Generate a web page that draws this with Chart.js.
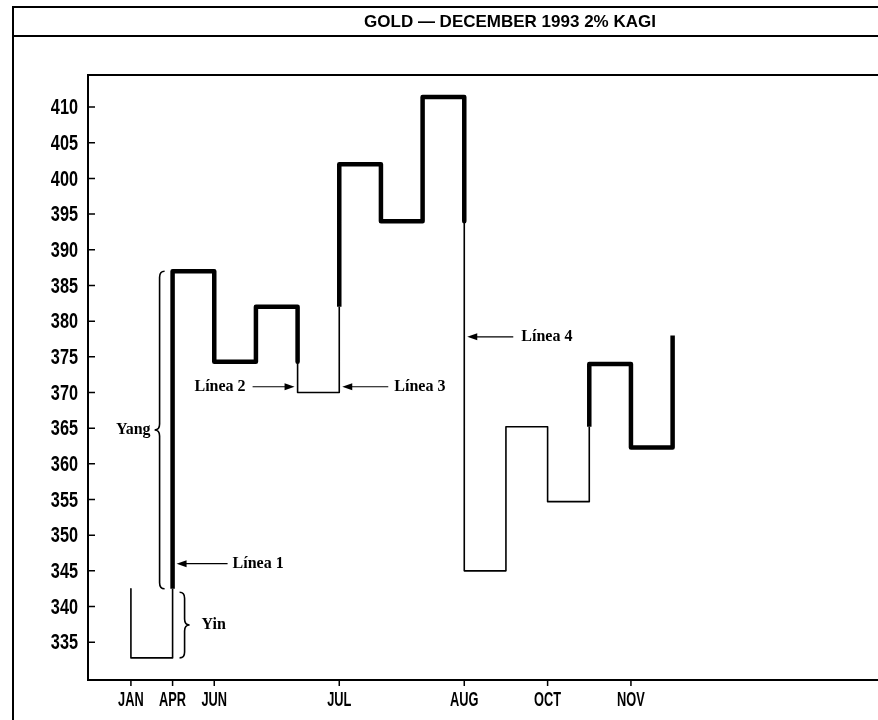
<!DOCTYPE html>
<html>
<head>
<meta charset="utf-8">
<title>Gold - December 1993 2% Kagi</title>
<script src="https://cdn.jsdelivr.net/npm/chart.js@4/dist/chart.umd.min.js"></script>
<style>
  html, body { margin: 0; padding: 0; background: #fff; overflow: hidden; }
  #wrap { width: 1020px; height: 720px; }
</style>
</head>
<body>
<div id="wrap"><canvas id="kagi" width="1020" height="720"></canvas></div>
<script>
// precios de cada giro del grafico Kagi (en orden)
var reversalPrices = [342.5, 332.8, 387, 374.3, 382, 370, 402, 394, 411.4, 345, 365.2, 354.7, 374, 362.3, 378];

// etiquetas del eje x (columna del giro donde aparece cada mes)
var xTickPositions = [0, 1, 2, 5, 8, 10, 12];
var xTickLabels = ['JAN', 'APR', 'JUN', 'JUL', 'AUG', 'OCT', 'NOV'];

var yTickValues = [335, 340, 345, 350, 355, 360, 365, 370, 375, 380, 385, 390, 395, 400, 405, 410];

var chartTitle = 'GOLD \u2014 DECEMBER 1993 2% KAGI';

// Construir la linea Kagi: vertical en la columna k-1, horizontal hasta la columna k.
// Se vuelve gruesa (yang) al superar el hombro anterior y fina (yin) al romper la cintura anterior.
function buildKagi(prices) {
  var pts = [{x: 0, y: prices[0], thick: false}];
  var thick = false;
  for (var k = 1; k < prices.length; k++) {
    var col = k - 1;
    if (k >= 2) {
      var ref = prices[k - 2];
      var up = prices[k] > prices[k - 1];
      if (up && !thick && prices[k] > ref) {
        pts.push({x: col, y: ref, thick: thick});
        thick = true;
      } else if (!up && thick && prices[k] < ref) {
        pts.push({x: col, y: ref, thick: thick});
        thick = false;
      }
    }
    pts.push({x: col, y: prices[k], thick: thick});
    if (k < prices.length - 1) {
      pts.push({x: k, y: prices[k], thick: thick});
    }
  }
  return pts;
}

var kagiPoints = buildKagi(reversalPrices);

var sansFont = "'Liberation Sans', Arial, sans-serif";
var serifFont = "'Liberation Serif', 'DejaVu Serif', 'Times New Roman', serif";

function arrow(ctx, x1, y, x2) {
  // linea de x1 a x2 con punta en x2
  var dir = x2 > x1 ? 1 : -1;
  ctx.beginPath();
  ctx.moveTo(x1, y);
  ctx.lineTo(x2 - dir * 6, y);
  ctx.lineWidth = 1.2;
  ctx.stroke();
  ctx.beginPath();
  ctx.moveTo(x2, y);
  ctx.lineTo(x2 - dir * 10, y - 3.5);
  ctx.lineTo(x2 - dir * 10, y + 3.5);
  ctx.closePath();
  ctx.fill();
}

function brace(ctx, x, top, bottom, dir) {
  // dir = -1 -> '{' con punta a la izquierda, 1 -> '}' con punta a la derecha
  var mid = (top + bottom) / 2;
  var h = 5 * dir;
  ctx.beginPath();
  ctx.moveTo(x - h, top);
  ctx.quadraticCurveTo(x, top, x, top + 6);
  ctx.lineTo(x, mid - 6);
  ctx.quadraticCurveTo(x, mid, x + h, mid);
  ctx.quadraticCurveTo(x, mid, x, mid + 6);
  ctx.lineTo(x, bottom - 6);
  ctx.quadraticCurveTo(x, bottom, x - h, bottom);
  ctx.lineWidth = 1.6;
  ctx.stroke();
}

// texto estrecho (la fuente original es muy condensada)
function narrowText(ctx, text, x, y, squeeze, align) {
  ctx.save();
  ctx.translate(x, y);
  ctx.scale(squeeze, 1);
  ctx.textAlign = align;
  ctx.fillText(text, 0, 0);
  ctx.restore();
}

var framePlugin = {
  id: 'frame',
  afterDraw: function(chart) {
    var ctx = chart.ctx;
    var area = chart.chartArea;
    var xs = chart.scales.x;
    var ys = chart.scales.y;
    ctx.save();
    ctx.strokeStyle = '#000';
    ctx.fillStyle = '#000';

    // marco exterior y franja del titulo
    ctx.lineWidth = 2;
    ctx.beginPath();
    ctx.moveTo(13, 740);
    ctx.lineTo(13, 7);
    ctx.lineTo(chart.width - 13, 7);
    ctx.lineTo(chart.width - 13, 740);
    ctx.moveTo(13, 36);
    ctx.lineTo(chart.width - 13, 36);
    ctx.stroke();

    ctx.font = 'bold 17px ' + sansFont;
    ctx.textAlign = 'center';
    ctx.textBaseline = 'middle';
    ctx.fillText(chartTitle, chart.width / 2, 22);

    // caja del grafico
    ctx.lineWidth = 2;
    ctx.strokeRect(area.left, area.top, area.right - area.left, area.bottom - area.top);

    // marcas del eje y hacia dentro, del eje x hacia fuera
    ctx.lineWidth = 1.5;
    ctx.beginPath();
    ys.ticks.forEach(function(t) {
      var py = ys.getPixelForValue(t.value);
      ctx.moveTo(area.left, py);
      ctx.lineTo(area.left + 7, py);
    });
    xs.ticks.forEach(function(t) {
      var px = xs.getPixelForValue(t.value);
      ctx.moveTo(px, area.bottom);
      ctx.lineTo(px, area.bottom + 6);
    });
    ctx.stroke();

    // etiquetas de los ejes, sacadas de los ticks de cada escala
    ctx.font = 'bold 22px ' + sansFont;
    ctx.textBaseline = 'middle';
    ys.ticks.forEach(function(t) {
      narrowText(ctx, t.label, area.left - 10, ys.getPixelForValue(t.value) + 1, 0.74, 'right');
    });
    ctx.font = 'bold 20px ' + sansFont;
    xs.ticks.forEach(function(t) {
      narrowText(ctx, t.label, xs.getPixelForValue(t.value), area.bottom + 20, 0.64, 'center');
    });

    // anotaciones
    ctx.font = 'bold 16px ' + serifFont;
    ctx.textBaseline = 'middle';

    var c1 = xs.getPixelForValue(1);
    var y1 = ys.getPixelForValue(346);
    arrow(ctx, c1 + 55, y1, c1 + 4);
    ctx.textAlign = 'left';
    ctx.fillText('L\u00ednea 1', c1 + 60, y1);

    var c4 = xs.getPixelForValue(4);
    var c5 = xs.getPixelForValue(5);
    var y23 = ys.getPixelForValue(370.8);
    arrow(ctx, c4 - 45, y23, c4 - 3);
    ctx.textAlign = 'right';
    ctx.fillText('L\u00ednea 2', c4 - 52, y23);
    arrow(ctx, c5 + 49, y23, c5 + 3);
    ctx.textAlign = 'left';
    ctx.fillText('L\u00ednea 3', c5 + 55, y23);

    var c8 = xs.getPixelForValue(8);
    var y4 = ys.getPixelForValue(377.8);
    arrow(ctx, c8 + 49, y4, c8 + 3);
    ctx.fillText('L\u00ednea 4', c8 + 57, y4);

    // llaves Yang / Yin
    brace(ctx, c1 - 13, ys.getPixelForValue(387), ys.getPixelForValue(342.5), -1);
    ctx.textAlign = 'right';
    ctx.fillText('Yang', c1 - 22, (ys.getPixelForValue(387) + ys.getPixelForValue(342.5)) / 2);

    brace(ctx, c1 + 12, ys.getPixelForValue(342), ys.getPixelForValue(332.8), 1);
    ctx.textAlign = 'left';
    ctx.fillText('Yin', c1 + 29, (ys.getPixelForValue(342) + ys.getPixelForValue(332.8)) / 2);

    ctx.restore();
  }
};

var canvas = document.getElementById('kagi');
var config = {
  type: 'line',
  data: {
    datasets: [{
      label: 'Kagi',
      data: kagiPoints,
      borderColor: '#000',
      borderWidth: 1.6,
      borderJoinStyle: 'round',
      borderCapStyle: 'butt',
      pointRadius: 0,
      tension: 0,
      fill: false,
      segment: {
        borderWidth: function(ctx) {
          return kagiPoints[ctx.p1DataIndex].thick ? 4.5 : 1.6;
        }
      }
    }]
  },
  options: {
    responsive: false,
    animation: false,
    layout: {
      padding: {left: 0, top: 75, right: 88, bottom: 0}
    },
    plugins: {
      legend: {display: false},
      title: {display: false},
      tooltip: {enabled: false}
    },
    scales: {
      x: {
        type: 'linear',
        min: -1.03,
        max: 19.225,
        grid: {display: false, drawTicks: false},
        border: {display: false},
        afterBuildTicks: function(scale) {
          scale.ticks = xTickPositions.map(function(v) { return {value: v}; });
        },
        afterFit: function(scale) {
          scale.height = 40;
        },
        ticks: {
          display: false,
          autoSkip: false,
          maxRotation: 0,
          callback: function(value) {
            var i = xTickPositions.indexOf(value);
            return i >= 0 ? xTickLabels[i] : '';
          }
        }
      },
      y: {
        type: 'linear',
        min: 329.7,
        max: 414.5,
        grid: {display: false, drawTicks: false},
        border: {display: false},
        afterBuildTicks: function(scale) {
          scale.ticks = yTickValues.map(function(v) { return {value: v}; });
        },
        afterFit: function(scale) {
          scale.width = 88;
        },
        ticks: {
          display: false,
          callback: function(value) { return String(value); }
        }
      }
    }
  },
  plugins: [framePlugin]
};

canvas.chart = new Chart(canvas.getContext('2d'), config);
</script>
</body>
</html>
